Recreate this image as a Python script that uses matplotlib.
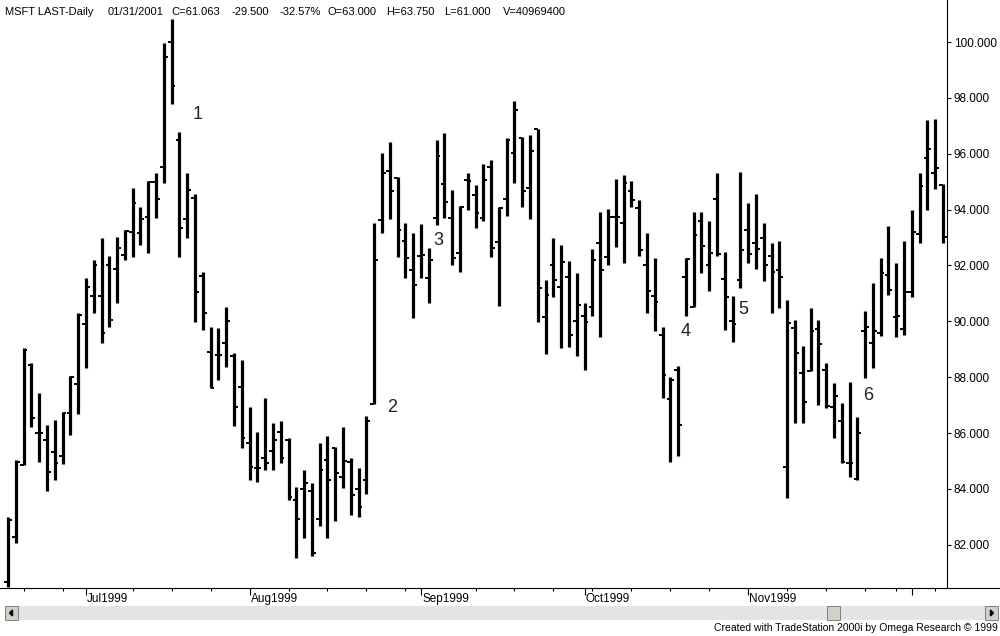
import matplotlib
matplotlib.use('Agg')
import matplotlib.pyplot as plt
import pandas as pd
from matplotlib.patches import Rectangle, Polygon
from matplotlib.lines import Line2D

plt.rcParams['font.family'] = ['Liberation Sans', 'DejaVu Sans']

# daily OHLC, MSFT, 17 Jun 1999 .. 7 Dec 1999
highs = [82.99, 85.04, 89.05, 88.51, 87.43, 86.29, 86.47, 86.75, 88.04, 90.30,
         91.55, 92.20, 92.98, 92.34, 93.02, 93.27, 94.77, 94.09, 95.02, 95.31,
         99.96, 100.82, 96.78, 95.31, 94.56, 91.77, 89.80, 89.76, 90.51, 88.87,
         88.62, 86.93, 86.04, 87.26, 86.36, 86.43, 85.82, 84.07, 84.68, 84.21,
         85.64, 85.89, 85.50, 86.22, 85.11, 84.75, 86.61, 93.52, 96.03, 96.42,
         95.17, 93.52, 93.16, 93.48, 92.63, 96.49, 96.74, 94.70, 94.13, 95.31,
         94.88, 95.63, 95.78, 94.09, 96.56, 97.89, 96.60, 96.67, 96.89, 91.48,
         92.98, 92.73, 92.16, 91.73, 90.66, 92.59, 93.91, 94.02, 95.10, 95.24,
         95.02, 94.34, 93.16, 92.27, 89.80, 88.01, 88.40, 92.27, 93.91, 93.91,
         93.59, 95.31, 92.48, 90.91, 95.35, 94.24, 94.56, 93.52, 92.80, 92.88,
         90.76, 90.05, 89.12, 90.48, 90.05, 88.51, 87.79, 87.08, 87.83, 86.57,
         90.37, 91.37, 92.27, 93.41, 92.09, 92.88, 93.99, 95.31, 97.21, 97.24,
         94.92]
lows = [80.49, 82.06, 84.86, 86.22, 84.96, 83.93, 84.32, 84.89, 85.93, 86.68,
        88.33, 90.30, 89.22, 89.80, 90.66, 92.20, 92.30, 92.73, 92.45, 93.70,
        94.95, 97.78, 92.30, 92.98, 89.98, 89.69, 87.61, 87.90, 88.36, 86.25,
        85.47, 84.32, 84.25, 84.68, 84.68, 84.93, 83.60, 81.53, 82.24, 81.60,
        82.67, 82.24, 82.85, 84.03, 83.07, 82.99, 83.82, 87.04, 93.16, 93.66,
        92.30, 91.55, 90.12, 91.55, 90.66, 93.45, 93.70, 92.02, 91.77, 93.99,
        93.34, 93.59, 92.30, 90.55, 93.77, 94.95, 94.09, 93.66, 89.98, 88.83,
        90.87, 89.05, 89.08, 88.76, 88.26, 90.19, 89.44, 92.02, 92.66, 92.09,
        94.09, 92.34, 90.30, 89.65, 87.26, 84.96, 85.18, 90.19, 90.51, 91.73,
        91.09, 92.34, 89.69, 89.26, 91.19, 92.09, 91.87, 91.44, 90.30, 90.48,
        83.68, 86.36, 86.36, 88.22, 87.00, 86.90, 85.82, 84.93, 84.43, 84.32,
        87.97, 88.33, 89.47, 90.94, 89.44, 89.51, 90.87, 92.80, 93.99, 94.74,
        92.80]
opens = [80.67, 82.28, 84.86, 88.44, 86.00, 85.75, 85.32, 85.18, 86.72, 87.76,
         89.90, 90.91, 90.91, 92.02, 91.87, 92.37, 93.20, 93.16, 93.73, 94.99,
         95.52, 100.00, 96.49, 93.66, 94.42, 91.62, 88.90, 88.79, 89.22, 88.76,
         87.65, 85.64, 84.75, 85.11, 85.36, 86.04, 85.75, 83.60, 84.00, 83.93,
         82.92, 85.04, 85.47, 84.43, 84.96, 84.00, 84.32, 87.04, 93.63, 95.38,
         95.13, 92.88, 91.84, 92.34, 91.55, 93.70, 94.92, 93.70, 92.45, 95.06,
         94.52, 93.70, 95.52, 92.84, 94.38, 96.03, 96.56, 94.77, 96.89, 90.15,
         92.02, 91.23, 91.59, 90.01, 90.19, 90.51, 92.80, 92.30, 93.73, 93.52,
         94.67, 94.06, 92.02, 90.91, 89.51, 87.22, 88.26, 91.59, 90.51, 93.59,
         92.02, 94.38, 91.52, 90.01, 91.48, 93.27, 92.80, 92.98, 92.34, 91.84,
         84.78, 89.76, 88.15, 88.22, 89.73, 88.26, 86.93, 86.43, 84.93, 84.35,
         89.65, 89.22, 89.58, 91.66, 90.15, 89.73, 91.05, 93.13, 95.85, 95.31,
         94.88]
closes = [82.89, 84.96, 88.97, 86.54, 86.00, 84.61, 84.93, 86.72, 88.01, 90.23,
          91.23, 92.02, 89.58, 90.05, 92.63, 93.23, 94.24, 93.66, 94.99, 94.38,
          99.46, 98.42, 93.34, 94.70, 91.05, 90.30, 87.61, 88.79, 90.01, 86.93,
          85.82, 84.78, 84.75, 84.93, 85.75, 85.11, 83.71, 82.92, 84.21, 81.71,
          84.68, 84.32, 84.57, 85.00, 83.78, 83.35, 86.43, 92.20, 95.31, 94.67,
          93.27, 92.27, 91.30, 92.37, 92.20, 95.92, 94.27, 92.27, 94.09, 95.02,
          93.88, 95.06, 92.63, 94.06, 96.49, 97.57, 94.67, 96.10, 91.19, 90.94,
          91.48, 92.12, 89.51, 90.58, 89.98, 92.20, 91.84, 93.73, 93.73, 94.95,
          94.34, 92.55, 91.09, 90.69, 88.08, 87.90, 86.29, 92.23, 93.09, 92.70,
          92.45, 92.41, 90.87, 89.90, 92.55, 92.41, 92.59, 92.02, 91.77, 91.59,
          89.94, 88.87, 87.11, 89.65, 89.19, 86.97, 87.33, 84.96, 84.93, 86.00,
          89.80, 89.65, 91.73, 91.12, 90.19, 91.05, 93.20, 94.84, 96.17, 95.49,
          93.02]

# numbered swing points drawn on the chart (label, bar index, price)
marks = ['1', '2', '3', '4', '5', '6']
mark_x = [24.3, 49.3, 55.2, 87.0, 94.4, 110.4]
mark_y = [97.42, 86.93, 92.91, 89.62, 90.41, 87.36]

price_ticks = [82, 84, 86, 88, 90, 92, 94, 96, 98, 100]

header = ['MSFT LAST-Daily', '01/31/2001', 'C=61.063', '-29.500', '-32.57%',
          'O=63.000', 'H=63.750', 'L=61.000', 'V=40969400']
header_px = [5, 108, 171, 231, 279, 327, 386, 444, 503]

dates = pd.bdate_range('1999-06-17', '1999-12-07')
dates = dates.drop(pd.to_datetime(['1999-07-05', '1999-09-06', '1999-11-25']))
x = list(range(len(dates)))

W, H = 1000, 636
def fx(px):
    return px / W
def fy(py):
    return 1 - py / H

fig = plt.figure(figsize=(10, 6.36), dpi=100)
fig.patch.set_facecolor('white')
ax = fig.add_axes([0, fy(588), fx(947), 588 / H])
ax.set_xlim(-1.027, 120.51)
ax.set_ylim(80.451, 101.504)

# OHLC bars
ax.vlines(x, lows, highs, color='black', lw=2.3)
ax.hlines(opens, [i - 0.48 for i in x], x, color='black', lw=1.4)
ax.hlines(closes, x, [i + 0.48 for i in x], color='black', lw=1.4)

for s, mx, my in zip(marks, mark_x, mark_y):
    ax.text(mx, my, s, fontsize=13, color='#222222', ha='center', va='center')

for side in ['left', 'top', 'bottom']:
    ax.spines[side].set_visible(False)
ax.spines['right'].set_linewidth(0.8)

# price scale on the right
ax.yaxis.tick_right()
ax.set_yticks(price_ticks)
ax.set_yticklabels(['%.3f' % p for p in price_ticks])
ax.tick_params(axis='y', length=3, width=0.8, pad=2, labelsize=8.5)

# month ticks (long) and weekly ticks (short)
month_idx = [i for i in x if i == 0 or dates[i].month != dates[i - 1].month][1:]
monday_idx = [i for i in x if dates[i].weekday() == 0]
ax.set_xticks(month_idx)
ax.set_xticklabels([''] * len(month_idx))
ax.set_xticks(monday_idx, minor=True)
ax.tick_params(axis='x', which='major', length=5, width=0.8)
ax.tick_params(axis='x', which='minor', length=2.2, width=0.8)
for i in month_idx:
    if dates[i].month == 12:
        continue
    ax.text(i + 0.15, -11 / 588, dates[i].strftime('%b%Y'), transform=ax.get_xaxis_transform(),
            ha='left', va='center', fontsize=8.5)

fig.add_artist(Line2D([0, 1], [fy(588), fy(588)], color='black', lw=0.8))

for s, px in zip(header, header_px):
    fig.text(fx(px), fy(12), s, fontsize=8, ha='left', va='center')

# scroll bar strip
fig.add_artist(Rectangle((fx(5), fy(620)), fx(993), 14 / H, facecolor='#e4e4e4',
                         edgecolor='none', transform=fig.transFigure))
for bx in [5, 985, 827]:
    fig.add_artist(Rectangle((fx(bx), fy(620)), fx(13), 14 / H, facecolor='#d4d0c8',
                             edgecolor='#808080', lw=0.7, transform=fig.transFigure))
fig.add_artist(Polygon([(fx(9.5), fy(613)), (fx(12.5), fy(610)), (fx(12.5), fy(616))],
                       closed=True, color='black', transform=fig.transFigure))
fig.add_artist(Polygon([(fx(993.5), fy(613)), (fx(990.5), fy(610)), (fx(990.5), fy(616))],
                       closed=True, color='black', transform=fig.transFigure))

fig.text(fx(998), fy(628), 'Created with TradeStation 2000i by Omega Research \u00a9 1999',
         fontsize=7.5, ha='right', va='center')

fig.savefig('out.png', dpi=100)
